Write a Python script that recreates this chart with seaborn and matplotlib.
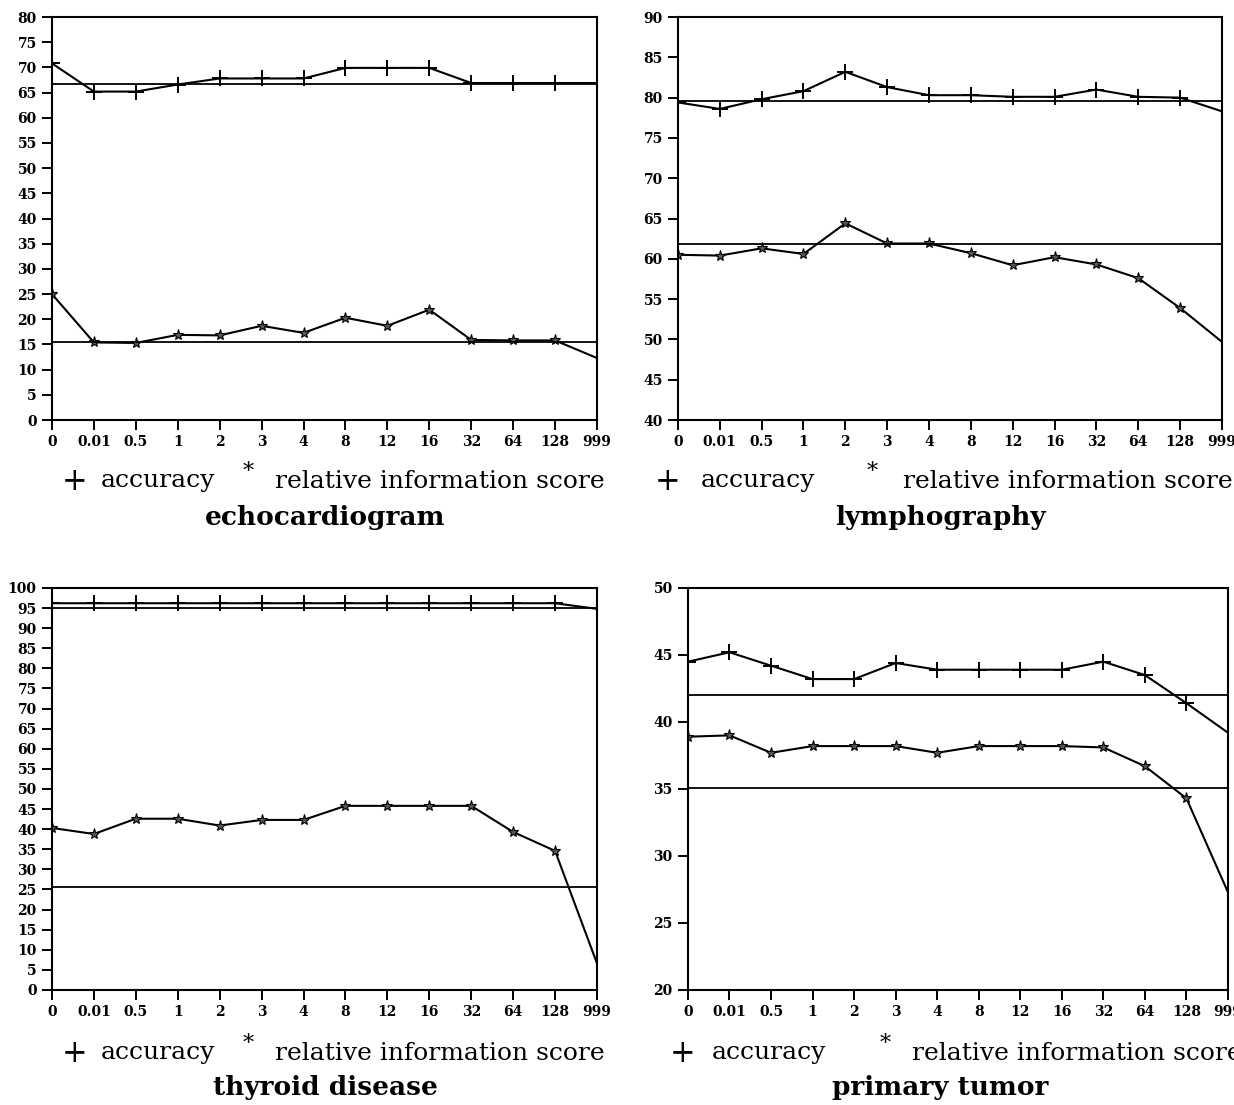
import numpy as np
import pandas as pd
import matplotlib
matplotlib.use('Agg')
import matplotlib.pyplot as plt
import seaborn as sns

sns.set_style('ticks')
plt.rcParams['font.family'] = ['DejaVu Serif']
plt.rcParams['text.color'] = 'black'

# parameter values on the x axis (equally spaced categories)
m_labels = ['0', '0.01', '0.5', '1', '2', '3', '4', '8', '12', '16', '32', '64', '128', '999']

# echocardiogram
echo_acc = [70.8, 65.2, 65.2, 66.6, 67.8, 67.8, 67.8, 69.9, 69.9, 69.9, 66.9, 66.9, 66.9, 66.9]
echo_inf = [25.0, 15.4, 15.3, 16.9, 16.8, 18.7, 17.3, 20.3, 18.7, 21.9, 15.9, 15.8, 15.8, 12.3]
echo_base = [66.7, 15.5]

# lymphography
lymph_acc = [79.4, 78.6, 79.8, 80.8, 83.2, 81.3, 80.3, 80.3, 80.1, 80.1, 81.0, 80.1, 80.0, 78.3]
lymph_inf = [60.5, 60.4, 61.3, 60.6, 64.4, 61.9, 61.9, 60.7, 59.2, 60.2, 59.3, 57.6, 53.9, 49.7]
lymph_base = [79.6, 61.8]

# thyroid disease
thy_acc = [96.2, 96.2, 96.2, 96.2, 96.2, 96.2, 96.2, 96.2, 96.2, 96.2, 96.2, 96.2, 96.2, 94.8]
thy_inf = [40.3, 38.8, 42.6, 42.6, 40.9, 42.3, 42.3, 45.8, 45.8, 45.8, 45.8, 39.3, 34.6, 6.6]
thy_base = [95.0, 25.6]

# primary tumor
tum_acc = [44.5, 45.2, 44.2, 43.2, 43.2, 44.4, 43.9, 43.9, 43.9, 43.9, 44.5, 43.5, 41.4, 39.2]
tum_inf = [38.9, 39.0, 37.7, 38.2, 38.2, 38.2, 37.7, 38.2, 38.2, 38.2, 38.1, 36.7, 34.3, 27.3]
tum_base = [42.0, 35.1]

panels = [
    ('echocardiogram', echo_acc, echo_inf, echo_base, (0, 80), 5,
     [0.0421, 0.6199, 0.4417, 0.3647]),
    ('lymphography', lymph_acc, lymph_inf, lymph_base, (40, 90), 5,
     [0.5494, 0.6199, 0.4408, 0.3647]),
    ('thyroid disease', thy_acc, thy_inf, thy_base, (0, 100), 5,
     [0.0421, 0.1041, 0.4417, 0.3638]),
    ('primary tumor', tum_acc, tum_inf, tum_base, (20, 50), 5,
     [0.5575, 0.1041, 0.4376, 0.3638]),
]

fig = plt.figure(figsize=(12.34, 11.05), dpi=100)

for name, acc, inf, base, ylim, step, rect in panels:
    ax = fig.add_axes(rect)
    pos = np.arange(len(m_labels))
    df = pd.DataFrame({'pos': pos, 'acc': acc, 'inf': inf})
    marks = list(range(len(m_labels) - 1))
    sns.lineplot(data=df, x='pos', y='acc', ax=ax, color='black', lw=1.5,
                 marker='+', markersize=12, markeredgewidth=1.4,
                 markeredgecolor='black', markevery=marks)
    sns.lineplot(data=df, x='pos', y='inf', ax=ax, color='black', lw=1.5,
                 marker='*', markersize=8, markeredgewidth=0.8,
                 markerfacecolor='#555555', markeredgecolor='black', markevery=marks)
    for b in base:
        ax.axhline(b, color='black', lw=1.3)
    ax.set_xlim(0, len(m_labels) - 1)
    ax.set_ylim(*ylim)
    ax.set_xticks(pos)
    ax.set_xticklabels(m_labels)
    ax.set_yticks(np.arange(ylim[0], ylim[1] + 1, step))
    ax.set_xlabel('')
    ax.set_ylabel('')
    for s in ax.spines.values():
        s.set_visible(True)
        s.set_linewidth(1.5)
        s.set_color('black')
    ax.tick_params(axis='both', direction='out', length=7, width=1.4, colors='black',
                   labelsize=10, pad=4)
    for lab in ax.get_xticklabels() + ax.get_yticklabels():
        lab.set_fontweight('bold')
    ax.grid(False)

# legends and titles under each panel (pixel positions)
W, H = 1234.0, 1105.0
legend_rows = [(481, 517), (1053, 1088)]
cols = [(75, 101, 248, 275, 325), (668, 701, 872, 903, 940)]
for r, (ly, ty) in enumerate(legend_rows):
    for c, (xp, xa, xs, xr, xt) in enumerate(cols):
        if r == 1 and c == 1:
            xp, xa, xs, xr = 683, 712, 885, 912
        fig.text(xp / W, 1 - ly / H, '+', fontsize=22, ha='center', va='center')
        fig.text(xa / W, 1 - ly / H, 'accuracy', fontsize=18, ha='left', va='center')
        fig.text(xs / W, 1 - (ly - 9) / H, '*', fontsize=16, ha='center', va='center')
        fig.text(xr / W, 1 - ly / H, 'relative information score', fontsize=18,
                 ha='left', va='center')
        title = panels[r * 2 + c][0]
        fig.text(xt / W, 1 - ty / H, title, fontsize=19, fontweight='bold',
                 ha='center', va='center')

fig.savefig('out.png', dpi=100)
